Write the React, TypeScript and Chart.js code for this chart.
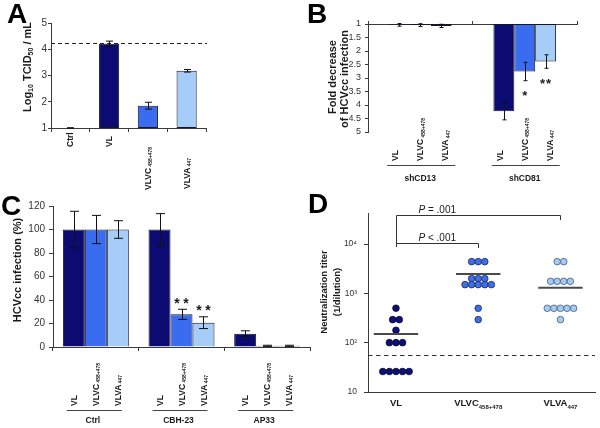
import React, { useEffect, useRef } from 'react';
import { Chart, registerables } from 'chart.js';

Chart.register(...registerables);

const W = 600;
const H = 428;
const FONT = '"Liberation Sans", Arial, Helvetica, sans-serif';
const INK = '#1a1a1a';
const AXIS = '#3a3a3a';
const FILL = ['#0b0b72', '#3a6cf0', '#a6cdf7'];
const EDGE = '#15152a';

// ---------- shared series names ----------
const SERIES = ['VL', 'VLVC', 'VLVA'];
const SERIES_SUB = ['', '458+478', '447'];

// ---------- Panel A ----------
const A_CATEGORIES = ['Ctrl', 'VL', 'VLVC', 'VLVA'];
const A_SUBS = ['', '', '458+478', '447'];
const A_VALUES = [1.0, 4.21, 1.85, 3.18];
const A_ERRORS = [0.01, 0.1, 0.13, 0.05];
const A_REFERENCE = 4.22;

// ---------- Panel B ----------
const B_GROUPS = ['shCD13', 'shCD81'];
const B_VL = [1.03, 4.23];
const B_VLVC = [1.04, 2.76];
const B_VLVA = [1.07, 2.39];
const B_VL_ERR = [0.05, 0.32];
const B_VLVC_ERR = [0.05, 0.34];
const B_VLVA_ERR = [0.06, 0.25];
const B_VL_SIG = ['', ''];
const B_VLVC_SIG = ['', '*'];
const B_VLVA_SIG = ['', '**'];

// ---------- Panel C ----------
const C_GROUPS = ['Ctrl', 'CBH-23', 'AP33'];
const C_VL = [100, 100, 11.3];
const C_VLVC = [100, 27.8, 1.0];
const C_VLVA = [100, 20.7, 1.0];
const C_VL_ERR = [15.5, 13.5, 2.5];
const C_VLVC_ERR = [12, 4.3, 0.5];
const C_VLVA_ERR = [7.5, 5, 0.5];
const C_VL_SIG = ['', '', ''];
const C_VLVC_SIG = ['', '**', ''];
const C_VLVA_SIG = ['', '**', ''];

// ---------- Panel D ----------
const D_CATEGORIES = ['VL', 'VLVC', 'VLVA'];
const D_SUBS = ['', '458+478', '447'];
const D_VL = [500, 293, 293, 178, 100, 100, 100, 26, 26, 26, 26, 26];
const D_VLVC = [4390, 4390, 4390, 1990, 1990, 1990, 1500, 1500, 1500, 1500, 1500, 497, 293];
const D_VLVA = [4390, 4390, 1750, 1750, 1750, 1750, 497, 497, 497, 497, 497, 293];
const D_MEANS = [149, 2460, 1305];
const D_CUTOFF = 57;
const D_TICKS = [10, 100, 1000, 10000];
const D_TICK_LABELS = ['10', '10²', '10³', '10⁴'];
const D_P_FROM = [0, 0];
const D_P_TO = [2, 1];
const D_P_LEVEL = [38700, 10480];
const D_P_TEXT = [' = .001', ' < .001'];

// ---------- layout (pixel boxes of the plot areas) ----------
const BOX_A = { left: 51, top: 23, right: 206, bottom: 128 };
const BOX_B = { left: 368, top: 24, right: 577, bottom: 132 };
const BOX_C = { left: 53, top: 206, right: 310, bottom: 347 };
const BOX_D = { left: 368, top: 213, right: 595, bottom: 392 };
const A_LABEL_BOTTOM = [147, 147, 190, 189];

type Part = { t: string; size: number; weight?: string; style?: string; dy?: number };

function fontOf(p: Part) {
  return `${p.style || 'normal'} ${p.weight || 'bold'} ${p.size}px ${FONT}`;
}

function measure(ctx: CanvasRenderingContext2D, parts: Part[]) {
  let w = 0;
  for (const p of parts) {
    ctx.font = fontOf(p);
    w += ctx.measureText(p.t).width;
  }
  return w;
}

function drawParts(
  ctx: CanvasRenderingContext2D,
  parts: Part[],
  x: number,
  y: number,
  align: 'left' | 'center' | 'right',
  rotated: boolean,
  color = INK
) {
  const w = measure(ctx, parts);
  ctx.save();
  ctx.translate(x, y);
  if (rotated) ctx.rotate(-Math.PI / 2);
  ctx.fillStyle = color;
  ctx.textAlign = 'left';
  ctx.textBaseline = 'alphabetic';
  let cx = align === 'left' ? 0 : align === 'center' ? -w / 2 : -w;
  for (const p of parts) {
    ctx.font = fontOf(p);
    ctx.fillText(p.t, cx, p.dy || 0);
    cx += ctx.measureText(p.t).width;
  }
  ctx.restore();
}

function labelParts(name: string, sub: string, size: number, subSize: number, gap: boolean): Part[] {
  const parts: Part[] = [{ t: name, size }];
  if (sub) parts.push({ t: (gap ? ' ' : '') + sub, size: subSize, dy: 1.2 });
  return parts;
}

function drawLetter(ctx: CanvasRenderingContext2D, ch: string, x: number, y: number) {
  ctx.save();
  ctx.font = `bold 28px ${FONT}`;
  ctx.fillStyle = '#000';
  ctx.textAlign = 'left';
  ctx.textBaseline = 'alphabetic';
  ctx.fillText(ch, x, y);
  ctx.restore();
}

function drawErrorBars(chart: any, cap: number) {
  const ctx = chart.ctx as CanvasRenderingContext2D;
  const ys = chart.scales.y;
  ctx.save();
  ctx.strokeStyle = '#111';
  ctx.lineWidth = 1;
  chart.data.datasets.forEach((ds: any, i: number) => {
    const meta = chart.getDatasetMeta(i);
    meta.data.forEach((el: any, j: number) => {
      const v = ds.values[j];
      const e = ds.errors[j];
      const x = Math.round(el.x) + 0.5;
      const y1 = ys.getPixelForValue(v - e);
      const y2 = ys.getPixelForValue(v + e);
      ctx.beginPath();
      ctx.moveTo(x, y1);
      ctx.lineTo(x, y2);
      ctx.moveTo(x - cap / 2, y1);
      ctx.lineTo(x + cap / 2, y1);
      ctx.moveTo(x - cap / 2, y2);
      ctx.lineTo(x + cap / 2, y2);
      ctx.stroke();
    });
  });
  ctx.restore();
}

function drawSignificance(chart: any, size: number, offset: number, pitch: number) {
  const ctx = chart.ctx as CanvasRenderingContext2D;
  const ys = chart.scales.y;
  ctx.save();
  ctx.font = `bold ${size}px ${FONT}`;
  ctx.fillStyle = INK;
  ctx.textAlign = 'center';
  ctx.textBaseline = 'alphabetic';
  chart.data.datasets.forEach((ds: any, i: number) => {
    const meta = chart.getDatasetMeta(i);
    meta.data.forEach((el: any, j: number) => {
      const s = ds.sig ? ds.sig[j] : '';
      if (!s) return;
      const v = ds.values[j];
      const e = ds.errors[j];
      const yEnd = ys.getPixelForValue(v + e);
      const dir = Math.sign(yEnd - ys.getPixelForValue(v)) || -1;
      const cy = yEnd + dir * offset;
      const n = s.length;
      for (let k = 0; k < n; k++) {
        const cx = el.x + (k - (n - 1) / 2) * pitch;
        ctx.fillText('*', cx, cy + 0.58 * size);
      }
    });
  });
  ctx.restore();
}

function drawGroupLabels(
  chart: any,
  groups: string[],
  spacing: number,
  labelBottom: number,
  lineY: number,
  lineFrom: number,
  lineTo: number,
  groupBaseline: number,
  groupShift: number
) {
  const ctx = chart.ctx as CanvasRenderingContext2D;
  const xs = chart.scales.x;
  groups.forEach((g, gi) => {
    const cx = xs.getPixelForValue(gi);
    SERIES.forEach((name, si) => {
      const x = cx + (si - 1) * spacing;
      drawParts(ctx, labelParts(name, SERIES_SUB[si], 8.5, 5, true), x + 3.1, labelBottom, 'left', true);
    });
    ctx.save();
    ctx.strokeStyle = '#444';
    ctx.lineWidth = 1;
    ctx.beginPath();
    ctx.moveTo(cx + lineFrom, lineY);
    ctx.lineTo(cx + lineTo, lineY);
    ctx.stroke();
    ctx.restore();
    drawParts(ctx, [{ t: g, size: 8.5 }], cx + groupShift, groupBaseline, 'center', false);
  });
}

function yAxisCommon(box: { left: number }, padding: number, tickLength: number) {
  return {
    grid: { drawOnChartArea: false, drawTicks: true, tickLength, color: AXIS },
    border: { display: true, color: AXIS, width: 1 },
    ticks: { font: { family: FONT, size: 9 }, color: '#333', padding, autoSkip: false },
    afterFit: (s: any) => {
      s.width = box.left;
    },
  };
}

const common = {
  responsive: false,
  animation: false as const,
  events: [] as any[],
  plugins: { legend: { display: false }, tooltip: { enabled: false } },
};

// ---------- Panel A ----------
function configA(): any {
  const plugin = {
    id: 'panelA',
    afterDraw(chart: any) {
      const ctx = chart.ctx as CanvasRenderingContext2D;
      const { left, right } = chart.chartArea;
      const ys = chart.scales.y;
      const xs = chart.scales.x;
      drawLetter(ctx, 'A', 7, 23);
      const yr = Math.round(ys.getPixelForValue(A_REFERENCE)) + 0.5;
      ctx.save();
      ctx.strokeStyle = '#222';
      ctx.lineWidth = 1.2;
      ctx.setLineDash([4, 3]);
      ctx.beginPath();
      ctx.moveTo(left, yr);
      ctx.lineTo(right + 1, yr);
      ctx.stroke();
      ctx.restore();
      drawErrorBars(chart, 7);
      A_CATEGORIES.forEach((c, i) => {
        const x = xs.getPixelForValue(i);
        drawParts(ctx, labelParts(c, A_SUBS[i], 8.5, 5, true), x + 3.1, A_LABEL_BOTTOM[i], 'left', true);
      });
      drawParts(
        ctx,
        [
          { t: 'Log', size: 11 },
          { t: '10', size: 7, dy: 2 },
          { t: ' TCID', size: 11 },
          { t: '50', size: 7, dy: 2 },
          { t: ' / mL', size: 11 },
        ],
        27 + 4,
        67,
        'center',
        true
      );
    },
  };
  return {
    type: 'bar',
    data: {
      labels: A_CATEGORIES,
      datasets: [
        {
          data: A_VALUES.map((v) => [1, v]),
          values: A_VALUES,
          errors: A_ERRORS,
          sig: A_VALUES.map(() => ''),
          backgroundColor: ['#ffffff', FILL[0], FILL[1], FILL[2]],
          borderColor: EDGE,
          borderWidth: 1,
          borderSkipped: false,
          barPercentage: 0.52,
          categoryPercentage: 1,
        },
      ],
    },
    options: {
      ...common,
      layout: { padding: { left: 0, top: BOX_A.top, right: W - BOX_A.right, bottom: 0 } },
      scales: {
        x: {
          type: 'category',
          offset: true,
          ticks: { display: false },
          grid: { offset: true, drawOnChartArea: false, tickLength: 4, color: AXIS },
          border: { color: AXIS },
          afterFit: (s: any) => {
            s.height = H - BOX_A.bottom;
          },
        },
        y: {
          ...yAxisCommon(BOX_A, 1, 3),
          min: 1,
          max: 5,
          ticks: { ...yAxisCommon(BOX_A, 1, 3).ticks, stepSize: 1, font: { family: FONT, size: 10 } },
        },
      },
    },
    plugins: [plugin],
  };
}

// ---------- Panel B ----------
function configB(): any {
  const vals = [B_VL, B_VLVC, B_VLVA];
  const errs = [B_VL_ERR, B_VLVC_ERR, B_VLVA_ERR];
  const sigs = [B_VL_SIG, B_VLVC_SIG, B_VLVA_SIG];
  const plugin = {
    id: 'panelB',
    afterDraw(chart: any) {
      const ctx = chart.ctx as CanvasRenderingContext2D;
      drawLetter(ctx, 'B', 307, 23);
      drawErrorBars(chart, 4);
      drawSignificance(chart, 13, 12, 6);
      drawGroupLabels(chart, B_GROUPS, 25, 161, 165.5, -33, 35, 180.5, 0);
      drawParts(ctx, [{ t: 'Fold decrease', size: 11 }], 332 + 4, 77, 'center', true);
      drawParts(ctx, [{ t: 'of HCVcc infection', size: 11 }], 344 + 4, 79, 'center', true);
    },
  };
  return {
    type: 'bar',
    data: {
      labels: B_GROUPS,
      datasets: SERIES.map((s, i) => ({
        label: s,
        data: vals[i].map((v) => [1, v]),
        values: vals[i],
        errors: errs[i],
        sig: sigs[i],
        backgroundColor: FILL[i],
        borderColor: EDGE,
        borderWidth: 1,
        borderSkipped: false,
        barPercentage: 1,
        categoryPercentage: 0.6,
      })),
    },
    options: {
      ...common,
      layout: { padding: { left: 0, top: 0, right: W - BOX_B.right, bottom: H - BOX_B.bottom } },
      scales: {
        x: {
          type: 'category',
          position: 'top',
          offset: true,
          ticks: { display: false },
          grid: { offset: true, drawOnChartArea: false, tickLength: 3, color: AXIS },
          border: { color: AXIS },
          afterFit: (s: any) => {
            s.height = BOX_B.top;
          },
        },
        y: {
          ...yAxisCommon(BOX_B, 4, 3),
          min: 1,
          max: 5,
          reverse: true,
          ticks: {
            ...yAxisCommon(BOX_B, 4, 3).ticks,
            stepSize: 0.5,
            callback: (v: any) => String(Number(v)),
          },
        },
      },
    },
    plugins: [plugin],
  };
}

// ---------- Panel C ----------
function configC(): any {
  const vals = [C_VL, C_VLVC, C_VLVA];
  const errs = [C_VL_ERR, C_VLVC_ERR, C_VLVA_ERR];
  const sigs = [C_VL_SIG, C_VLVC_SIG, C_VLVA_SIG];
  const plugin = {
    id: 'panelC',
    afterDraw(chart: any) {
      const ctx = chart.ctx as CanvasRenderingContext2D;
      drawLetter(ctx, 'C', 1, 215);
      drawErrorBars(chart, 9);
      drawSignificance(chart, 14, 9.5, 9);
      drawGroupLabels(chart, C_GROUPS, 22, 406, 410.5, -29, 26, 422.5, -3);
      drawParts(ctx, [{ t: 'HCVcc infection (%)', size: 11 }], 17 + 4, 270, 'center', true);
    },
  };
  return {
    type: 'bar',
    data: {
      labels: C_GROUPS,
      datasets: SERIES.map((s, i) => ({
        label: s,
        data: vals[i],
        values: vals[i],
        errors: errs[i],
        sig: sigs[i],
        backgroundColor: FILL[i],
        borderColor: EDGE,
        borderWidth: 1,
        borderSkipped: 'start',
        barPercentage: 1,
        categoryPercentage: 0.77,
      })),
    },
    options: {
      ...common,
      layout: { padding: { left: 0, top: BOX_C.top, right: W - BOX_C.right, bottom: 0 } },
      scales: {
        x: {
          type: 'category',
          offset: true,
          ticks: { display: false },
          grid: { offset: true, drawOnChartArea: false, tickLength: 4, color: AXIS },
          border: { color: AXIS },
          afterFit: (s: any) => {
            s.height = H - BOX_C.bottom;
          },
        },
        y: {
          ...yAxisCommon(BOX_C, 4, 4),
          min: 0,
          max: 120,
          ticks: { ...yAxisCommon(BOX_C, 4, 4).ticks, stepSize: 20, font: { family: FONT, size: 10 } },
        },
      },
    },
    plugins: [plugin],
  };
}

// ---------- Panel D ----------
const D_STEP = 0.08;
function swarm(values: number[], cat: number) {
  const counts = new Map<number, number>();
  values.forEach((v) => counts.set(v, (counts.get(v) || 0) + 1));
  const seen = new Map<number, number>();
  return values.map((v) => {
    const n = counts.get(v) || 1;
    const k = seen.get(v) || 0;
    seen.set(v, k + 1);
    return { x: cat + (k - (n - 1) / 2) * D_STEP, y: v };
  });
}

function configD(): any {
  const groups = [D_VL, D_VLVC, D_VLVA];
  const fills = ['#0c1078', '#3f6fe3', '#a7cbef'];
  const edges = ['#05052a', '#17286a', '#3e5a86'];
  const plugin = {
    id: 'panelD',
    afterDraw(chart: any) {
      const ctx = chart.ctx as CanvasRenderingContext2D;
      const xs = chart.scales.x;
      const ys = chart.scales.y;
      const { left, right, bottom } = chart.chartArea;
      drawLetter(ctx, 'D', 308, 213);
      const yc = Math.round(ys.getPixelForValue(D_CUTOFF)) + 0.5;
      ctx.save();
      ctx.strokeStyle = '#333';
      ctx.lineWidth = 1.2;
      ctx.setLineDash([4.5, 3.5]);
      ctx.beginPath();
      ctx.moveTo(left, yc);
      ctx.lineTo(right, yc);
      ctx.stroke();
      ctx.restore();
      ctx.save();
      ctx.strokeStyle = '#4a4a4a';
      ctx.lineWidth = 2;
      D_MEANS.forEach((m, i) => {
        const y = ys.getPixelForValue(m);
        ctx.beginPath();
        ctx.moveTo(xs.getPixelForValue(i - 0.27), y);
        ctx.lineTo(xs.getPixelForValue(i + 0.27), y);
        ctx.stroke();
      });
      ctx.restore();
      const lowest = Math.min(...D_P_LEVEL);
      const legBottom = ys.getPixelForValue(lowest) + 4;
      ctx.save();
      ctx.strokeStyle = '#333';
      ctx.lineWidth = 1;
      D_P_LEVEL.forEach((lvl, i) => {
        const x1 = Math.round(xs.getPixelForValue(D_P_FROM[i])) + 0.5;
        const x2 = Math.round(xs.getPixelForValue(D_P_TO[i])) + 0.5;
        const y = Math.round(ys.getPixelForValue(lvl)) + 0.5;
        ctx.beginPath();
        ctx.moveTo(x1, legBottom);
        ctx.lineTo(x1, y);
        ctx.lineTo(x2, y);
        ctx.lineTo(x2, y + 4.5);
        ctx.stroke();
        drawParts(
          ctx,
          [
            { t: 'P', size: 10, weight: 'normal', style: 'italic' },
            { t: D_P_TEXT[i], size: 10, weight: 'normal' },
          ],
          x1 + 22,
          y - 2.5,
          'left',
          false
        );
      });
      ctx.restore();
      D_CATEGORIES.forEach((c, i) => {
        const parts: Part[] = [{ t: c, size: 9.5 }];
        if (D_SUBS[i]) parts.push({ t: D_SUBS[i], size: 6, dy: 2.5 });
        drawParts(ctx, parts, xs.getPixelForValue(i), bottom + 14, 'center', false);
      });
      drawParts(ctx, [{ t: 'Neutralization titer', size: 9.5 }], 323 + 3.5, 292, 'center', true);
      drawParts(ctx, [{ t: '(1/dilution)', size: 9.5 }], 336 + 3.5, 292, 'center', true);
    },
  };
  return {
    type: 'scatter',
    data: {
      datasets: groups.map((g, i) => ({
        label: D_CATEGORIES[i],
        data: swarm(g, i),
        pointRadius: 3.3,
        pointBorderWidth: 0.8,
        pointBackgroundColor: fills[i],
        pointBorderColor: edges[i],
        showLine: false,
      })),
    },
    options: {
      ...common,
      layout: { padding: { left: 0, top: BOX_D.top, right: W - BOX_D.right, bottom: 0 } },
      scales: {
        x: {
          type: 'linear',
          min: -0.34,
          max: 2.42,
          ticks: { display: false },
          grid: { display: false },
          border: { color: AXIS },
          afterFit: (s: any) => {
            s.height = H - BOX_D.bottom;
          },
        },
        y: {
          ...yAxisCommon(BOX_D, 7, 4),
          type: 'logarithmic',
          min: 10,
          max: 42500,
          afterBuildTicks: (s: any) => {
            s.ticks = D_TICKS.map((v) => ({ value: v }));
          },
          ticks: {
            ...yAxisCommon(BOX_D, 7, 4).ticks,
            font: { family: FONT, size: 8.5 },
            callback: (v: any) => {
              const k = D_TICKS.indexOf(Number(v));
              return k >= 0 ? D_TICK_LABELS[k] : '';
            },
          },
        },
      },
    },
    plugins: [plugin],
  };
}

export default function App() {
  const refA = useRef<HTMLCanvasElement>(null);
  const refB = useRef<HTMLCanvasElement>(null);
  const refC = useRef<HTMLCanvasElement>(null);
  const refD = useRef<HTMLCanvasElement>(null);

  useEffect(() => {
    const charts = [
      new Chart(refA.current as HTMLCanvasElement, configA()),
      new Chart(refB.current as HTMLCanvasElement, configB()),
      new Chart(refC.current as HTMLCanvasElement, configC()),
      new Chart(refD.current as HTMLCanvasElement, configD()),
    ];
    return () => charts.forEach((c) => c.destroy());
  }, []);

  const refs = [refA, refB, refC, refD];
  return (
    <div style={{ position: 'fixed', left: 0, top: 0, width: W, height: H, background: '#fff' }}>
      {refs.map((r, i) => (
        <canvas
          key={i}
          ref={r}
          width={W}
          height={H}
          style={{ position: 'absolute', left: 0, top: 0, width: W, height: H }}
        />
      ))}
    </div>
  );
}
